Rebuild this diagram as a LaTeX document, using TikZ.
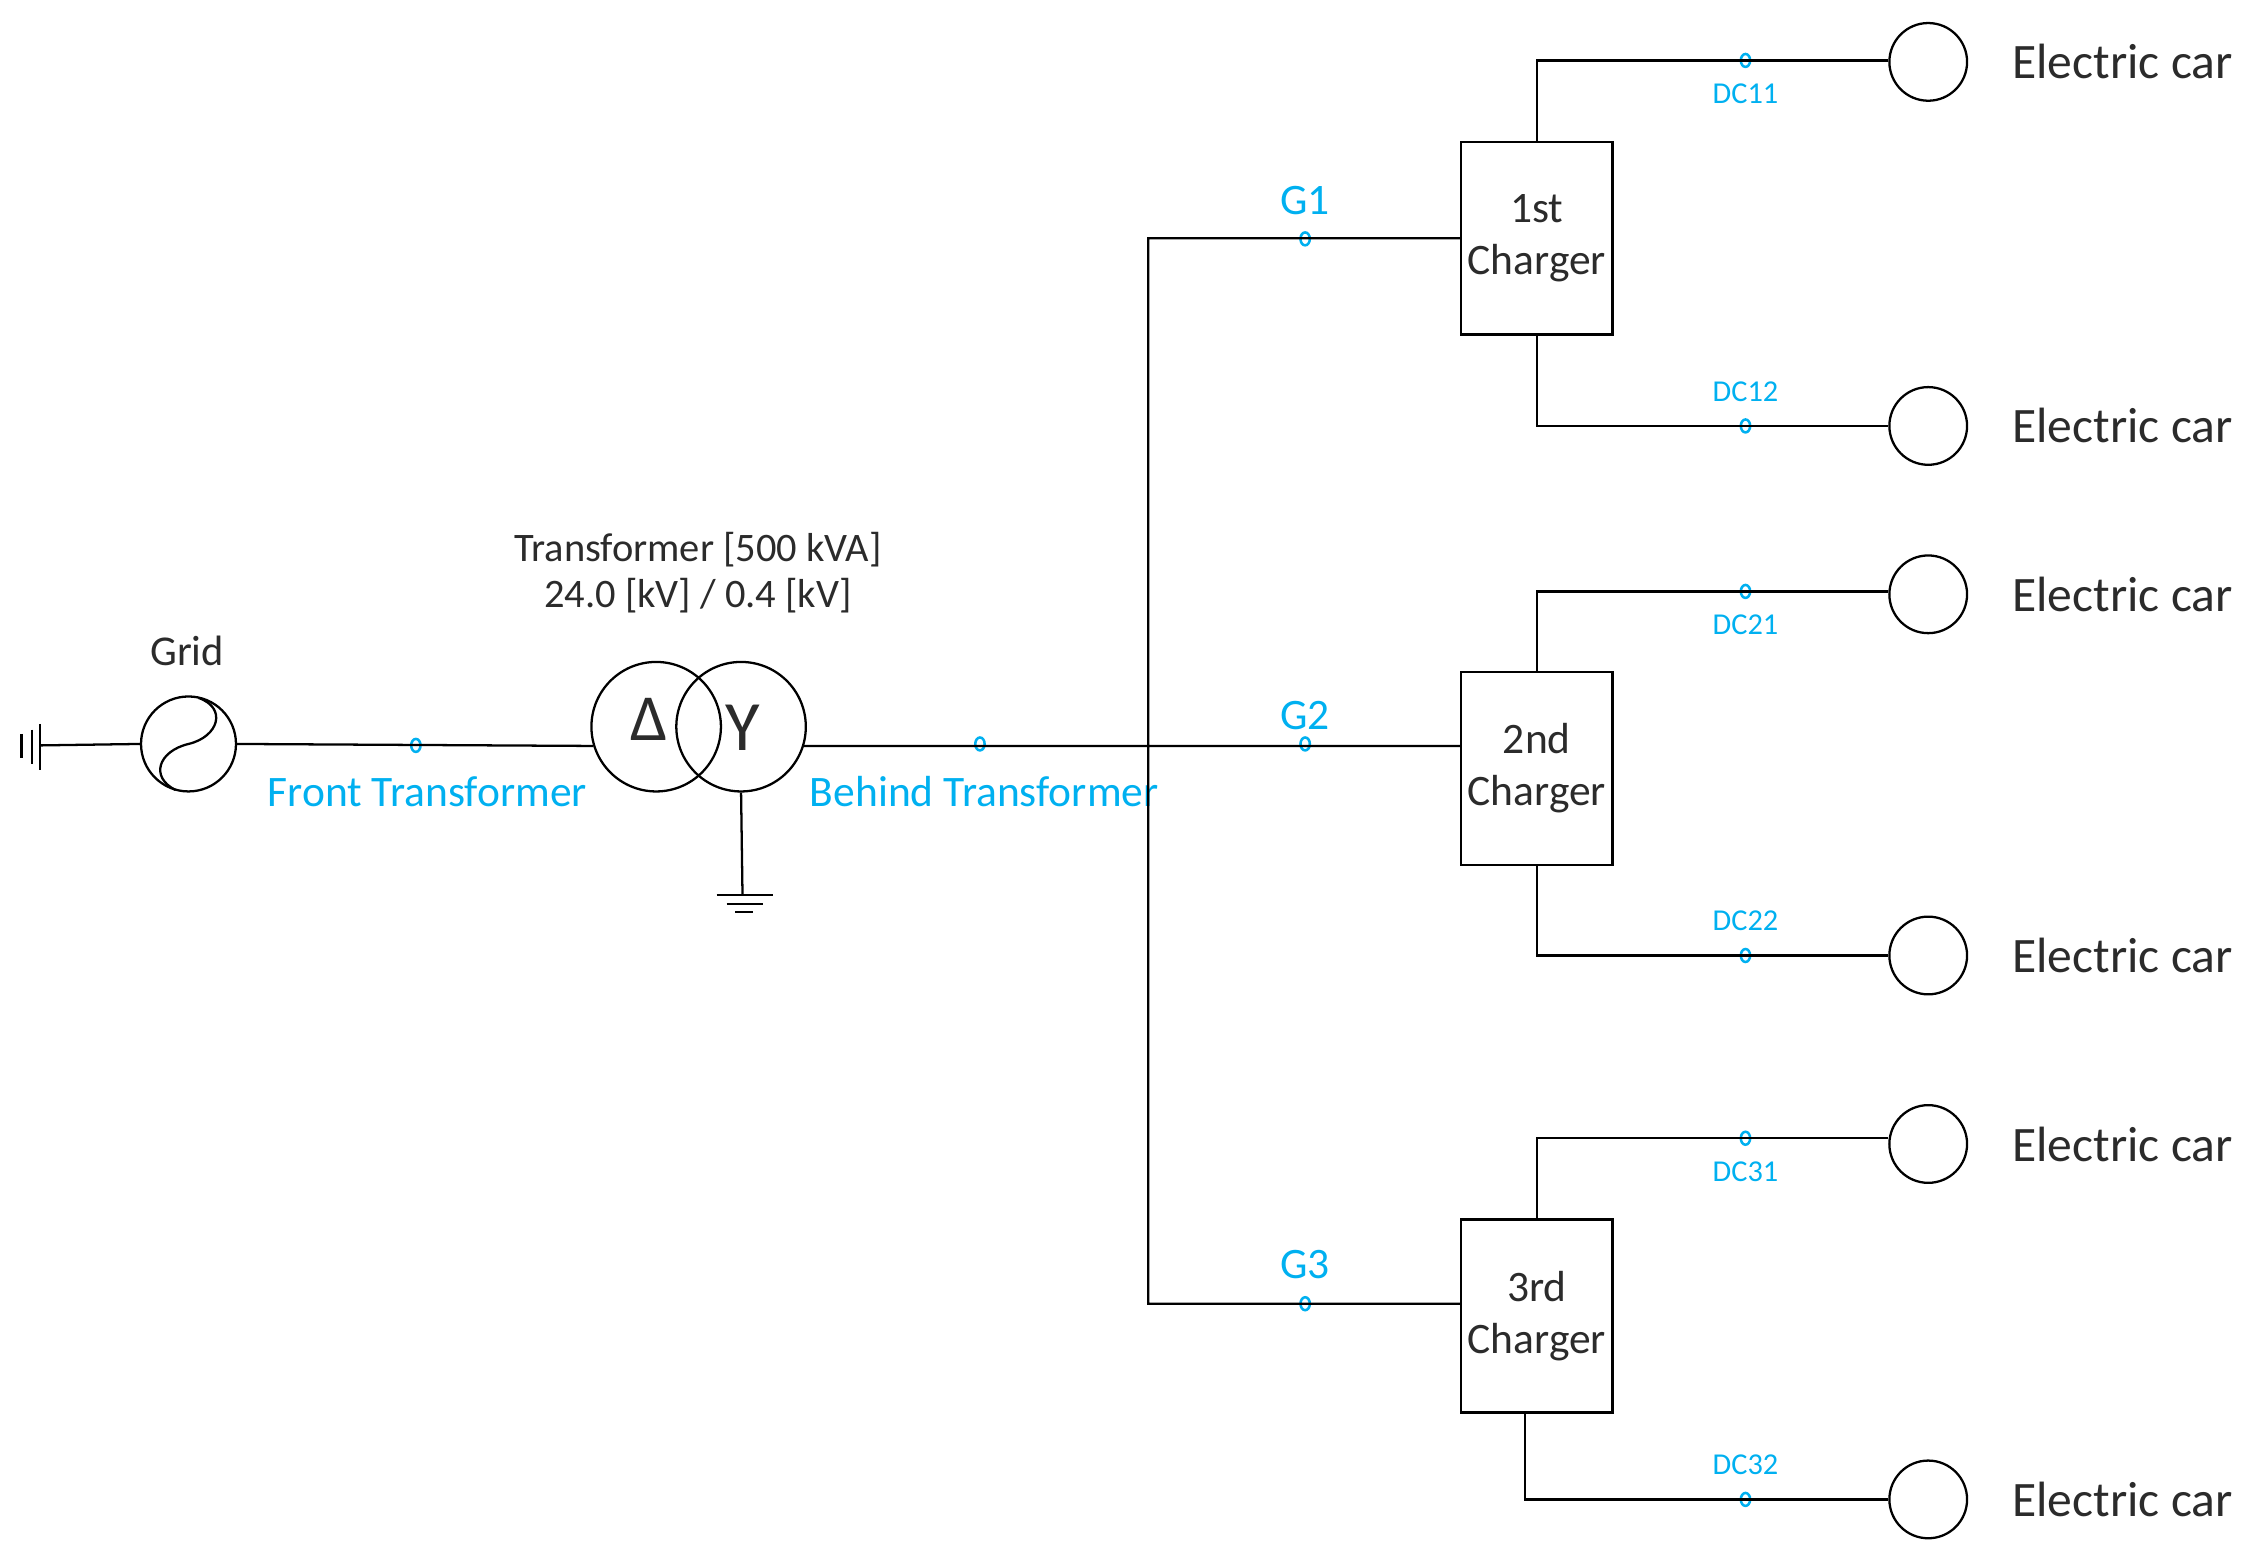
\documentclass[tikz,border=0pt]{standalone}
\usepackage{fontspec}
\setmainfont{Carlito}
\usepackage{xcolor}
\usepackage{tikz}
\usetikzlibrary{shapes,positioning}
\definecolor{lblue}{HTML}{00B0F0}
\definecolor{dtext}{HTML}{2B2B2B}
\tikzset{wire/.style={draw,line width=0.45pt},
         main node/.style={circle,draw,line width=0.45pt,inner sep=0pt},
         charger node/.style={rectangle,draw,line width=0.45pt,minimum width=10.5mm,minimum height=13.4mm,inner sep=0pt,align=center,text=dtext,font=\fontsize{8.6}{10.3}\selectfont},
         car node/.style={circle,draw,line width=0.45pt,minimum size=5.4mm,inner sep=0pt},
         meter node/.style={ellipse,draw=lblue,line width=0.5pt,minimum width=0.65mm,minimum height=0.9mm,inner sep=0pt},
         blue label/.style={text=lblue,inner sep=0pt,font=\fontsize{8.6}{10}\selectfont},
         dc label/.style={text=lblue,inner sep=0pt,font=\fontsize{6}{7}\selectfont},
         car label/.style={text=dtext,inner sep=0pt,font=\fontsize{9.8}{11}\selectfont},
            }

\begin{document}
\begin{tikzpicture}[x=0.1mm,y=-0.1mm]
    \useasboundingbox (0,0) rectangle (1565,1087);

    % grid side
    \coordinate (gnd) at (28,518);
    \node[main node,minimum size=6.6mm] (grid) at (131,517) {};
    \node[inner sep=0pt,text=dtext,font=\fontsize{8.4}{10}\selectfont] (gridlabel) at (130,452) {Grid};
    \draw[line width=0.45pt] (138,485) .. controls (158,492) and (152,512) .. (131,517)
        .. controls (110,522) and (104,540) .. (122,549);
    \draw[line width=0.45pt] (28,503) -- (28,535) (22,507) -- (22,531) (15,510) -- (15,527);

    % transformer
    \node[main node,minimum size=9mm] (tf1) at (456,505) {};
    \node[main node,minimum size=9mm] (tf2) at (515,505) {};
    \node[inner sep=0pt,text=dtext,font=\fontsize{13}{13}\selectfont] (delta) at (451,500) {Δ};
    \node[inner sep=0pt,text=dtext,font=\fontsize{14}{14}\selectfont] (wye) at (516,506) {Y};
    \node[inner sep=0pt,align=center,text=dtext,font=\fontsize{8}{9.1}\selectfont] (tflabel) at (485,398)
        {Transformer [500 kVA]\\24.0 [kV] / 0.4 [kV]};
    \coordinate (earth) at (516,622);
    \draw[line width=0.45pt] (498,622) -- (537,622) (505,628) -- (530,628) (511,634) -- (523,634);

    % chargers
    \node[charger node] (c1) at (1068,165.5) {1st\\Charger};
    \node[charger node] (c2) at (1068,534) {2nd\\Charger};
    \node[charger node] (c3) at (1068,914.5) {3rd\\Charger};
    \coordinate (bus) at (798,517);

    % electric cars
    \node[car node] (e11) at (1340,43) {};
    \node[car node] (e12) at (1340,296) {};
    \node[car node] (e21) at (1340,413) {};
    \node[car node] (e22) at (1340,664) {};
    \node[car node] (e31) at (1340,795) {};
    \node[car node] (e32) at (1340,1042) {};
    \node[car label] [right = 3mm of e11] {Electric car};
    \node[car label] [right = 3mm of e12] {Electric car};
    \node[car label] [right = 3mm of e21] {Electric car};
    \node[car label] [right = 3mm of e22] {Electric car};
    \node[car label] [right = 3mm of e31] {Electric car};
    \node[car label] [right = 3mm of e32] {Electric car};

    % meters
    \node[meter node] (mF) at (289,518) {};
    \node[meter node] (mB) at (681,517) {};
    \node[meter node] (mG1) at (907,166) {};
    \node[meter node] (mG2) at (907,517) {};
    \node[meter node] (mG3) at (907,906) {};
    \node[meter node] (m11) at (1213,42) {};
    \node[meter node] (m12) at (1213,296) {};
    \node[meter node] (m21) at (1213,411) {};
    \node[meter node] (m22) at (1213,664) {};
    \node[meter node] (m31) at (1213,791) {};
    \node[meter node] (m32) at (1213,1042) {};

    \node[blue label] (lF) at (297,550) {Front Transformer};
    \node[blue label] (lB) at (684,550) {Behind Transformer};
    \node[blue label] (lG1) [above = 1.1mm of mG1] {G1};
    \node[blue label] (lG2) [above = 0.4mm of mG2] {G2};
    \node[blue label] (lG3) [above = 1.1mm of mG3] {G3};
    \node[dc label] (l11) [below = 1mm of m11] {DC11};
    \node[dc label] (l12) [above = 1.1mm of m12] {DC12};
    \node[dc label] (l21) [below = 1mm of m21] {DC21};
    \node[dc label] (l22) [above = 1.1mm of m22] {DC22};
    \node[dc label] (l31) [below = 1mm of m31] {DC31};
    \node[dc label] (l32) [above = 1.1mm of m32] {DC32};

    \path[wire]
    (gnd) -- (grid.west)
    (grid.east) -- (tf1.197)
    (tf2.south) -- (earth)
    (tf2.-17) -- (tf2.-17 -| c2.west)
    (c1.west) -- (c1.west -| bus) -- (bus |- mG3) -- (mG3 -| c3.west);

    \path[wire]
    (c1.north) |- (m11.center) -- (m11 -| e11.west)
    (c1.south) |- (m12.center) -- (m12 -| e12.west)
    (c2.north) |- (m21.center) -- (m21 -| e21.west)
    (c2.south) |- (m22.center) -- (m22 -| e22.west)
    (c3.north) |- (m31.center) -- (m31 -| e31.west)
    ([xshift=-0.8mm]c3.south) |- (m32.center) -- (m32 -| e32.west);

\end{tikzpicture}
\end{document}
